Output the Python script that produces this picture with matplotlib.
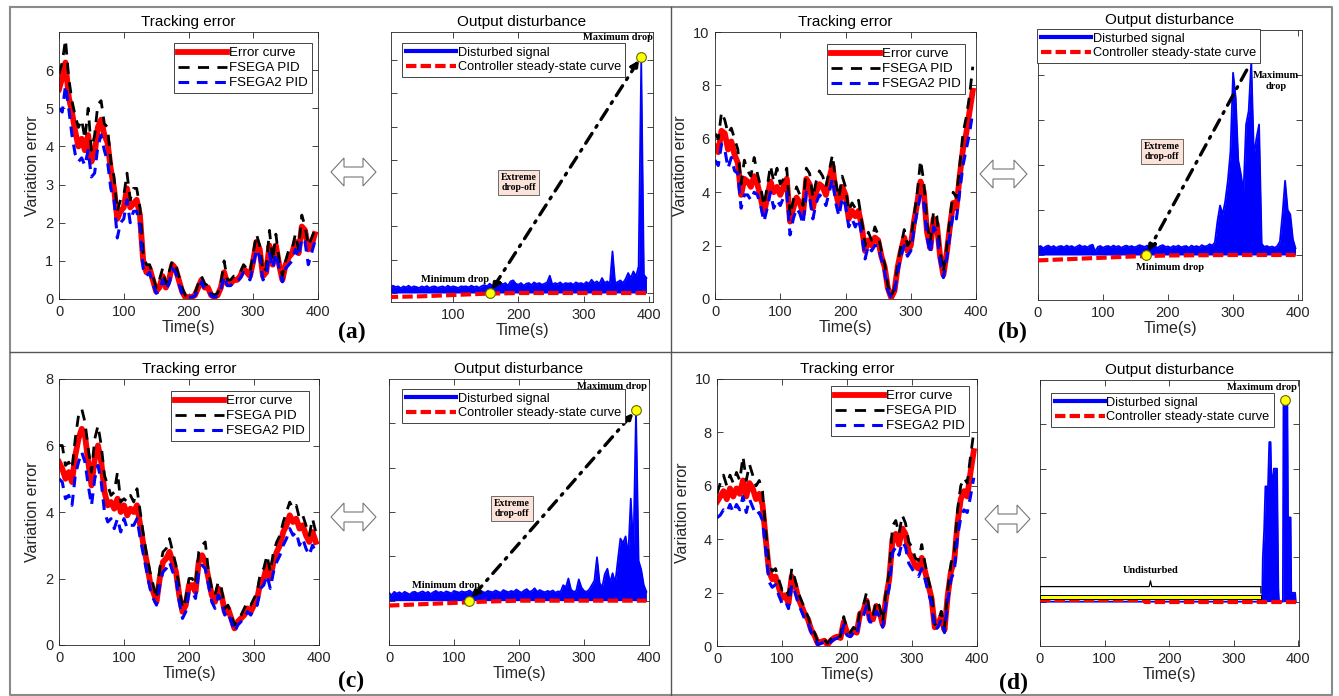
import numpy as np
import matplotlib
matplotlib.use('Agg')
import matplotlib.pyplot as plt
from matplotlib.lines import Line2D
from matplotlib.patches import Polygon, Rectangle

plt.rcParams['font.family'] = ['Liberation Sans', 'DejaVu Sans']

# ---------------- data ----------------
t_track = np.arange(0, 400, 5)

red_a = [5.5, 5.8, 6.2, 5.3, 4.9, 4.4, 4.0, 4.2, 3.9, 4.3,
         3.6, 3.8, 4.5, 4.7, 4.3, 4.1, 3.4, 2.9, 2.1, 2.3,
         2.4, 2.9, 2.4, 2.5, 2.6, 2.2, 1.0, 0.7, 0.8, 0.5,
         0.2, 0.3, 0.6, 0.3, 0.5, 0.9, 0.8, 0.5, 0.2, 0.05,
         0.05, 0.05, 0.1, 0.3, 0.5, 0.3, 0.3, 0.1, 0.05, 0.1,
         0.3, 0.7, 0.4, 0.4, 0.5, 0.5, 0.6, 0.8, 0.7, 0.6,
         1.0, 1.5, 1.3, 0.6, 0.7, 1.4, 0.9, 1.4, 0.9, 0.5,
         0.9, 1.1, 1.2, 1.5, 1.2, 1.9, 1.8, 1.3, 1.4, 1.7]
black_a = [5.9, 6.2, 6.8, 5.8, 5.2, 4.8, 4.5, 4.7, 4.2, 5.0,
           3.9, 4.3, 5.1, 5.2, 4.6, 4.5, 3.6, 3.2, 2.3, 2.6,
           2.7, 3.3, 2.6, 2.9, 2.9, 2.4, 1.2, 0.9, 0.9, 0.6,
           0.3, 0.5, 0.8, 0.4, 0.7, 1.0, 0.9, 0.6, 0.3, 0.1,
           0.1, 0.1, 0.15, 0.4, 0.6, 0.4, 0.35, 0.15, 0.1, 0.15,
           0.4, 1.0, 0.5, 0.5, 0.6, 0.6, 0.7, 0.9, 0.8, 0.7,
           1.2, 1.7, 1.4, 0.7, 0.8, 1.8, 1.0, 1.7, 1.0, 0.6,
           1.0, 1.3, 1.3, 1.7, 1.3, 2.2, 1.9, 1.4, 1.6, 1.8]
blue_a = [5.0, 4.9, 5.6, 5.0, 4.3, 3.8, 3.6, 3.7, 3.5, 3.9,
          3.2, 3.3, 4.0, 4.3, 3.9, 3.6, 2.9, 2.6, 1.6, 2.0,
          2.1, 2.6, 2.0, 2.3, 2.3, 1.9, 0.8, 0.6, 0.7, 0.4,
          0.15, 0.2, 0.5, 0.25, 0.4, 0.8, 0.7, 0.4, 0.15, 0.05,
          0.05, 0.05, 0.08, 0.25, 0.45, 0.25, 0.25, 0.08, 0.05, 0.08,
          0.25, 0.6, 0.35, 0.35, 0.45, 0.45, 0.55, 0.7, 0.6, 0.5,
          0.9, 1.3, 1.1, 0.5, 0.6, 1.2, 0.8, 1.2, 0.8, 0.45,
          0.8, 0.9, 1.0, 1.3, 1.1, 1.6, 1.5, 0.9, 1.2, 1.5]

red_b = [5.7, 5.5, 6.3, 6.2, 5.6, 5.9, 5.4, 5.1, 3.9, 4.5,
         4.4, 4.2, 4.6, 4.3, 3.8, 3.2, 3.8, 4.4, 4.0, 4.2,
         3.9, 4.2, 4.5, 2.9, 3.4, 3.8, 3.6, 3.2, 4.5, 4.3,
         3.4, 4.0, 4.3, 4.2, 3.9, 4.5, 5.0, 4.0, 3.5, 4.2,
         3.9, 3.0, 3.3, 3.1, 3.3, 2.7, 1.8, 2.2, 2.0, 2.3,
         2.2, 1.6, 1.2, 0.4, 0.05, 0.3, 1.2, 1.8, 2.3, 1.8,
         2.0, 2.9, 3.6, 4.4, 4.0, 2.5, 1.9, 3.0, 2.8, 1.6,
         0.9, 1.7, 2.7, 3.6, 3.4, 4.6, 5.6, 6.2, 7.0, 7.8]
black_b = [6.2, 6.0, 7.0, 6.7, 6.2, 6.4, 6.0, 5.6, 4.3, 5.2,
           4.8, 4.6, 5.3, 4.7, 4.2, 3.5, 4.2, 5.0, 4.4, 4.9,
           4.3, 4.5, 4.9, 3.1, 3.7, 4.2, 3.9, 3.5, 4.9, 4.7,
           3.8, 4.4, 4.8, 4.6, 4.2, 4.8, 5.4, 4.4, 3.8, 4.6,
           4.2, 3.3, 3.6, 3.4, 3.7, 2.9, 2.0, 2.5, 2.2, 2.7,
           2.4, 1.8, 1.3, 0.5, 0.1, 0.4, 1.3, 2.0, 2.6, 2.0,
           2.2, 3.1, 4.0, 5.2, 4.4, 2.8, 2.1, 3.3, 3.1, 1.8,
           1.0, 1.9, 3.0, 4.0, 3.8, 5.0, 6.2, 6.8, 7.6, 8.7]
blue_b = [5.2, 5.0, 5.8, 5.6, 4.9, 5.3, 4.8, 4.7, 3.4, 3.9,
          3.9, 3.7, 4.0, 3.9, 3.5, 2.9, 3.4, 4.0, 3.4, 3.7,
          3.5, 3.8, 4.0, 2.4, 3.0, 3.4, 3.2, 2.8, 4.0, 3.8,
          3.0, 3.6, 3.9, 3.8, 3.5, 4.0, 4.5, 3.6, 3.1, 3.8,
          3.5, 2.7, 3.0, 2.7, 3.0, 2.4, 1.5, 2.0, 1.8, 2.0,
          2.0, 1.5, 1.0, 0.3, 0.05, 0.25, 1.0, 1.6, 2.0, 1.6,
          1.8, 2.6, 3.3, 3.9, 3.6, 2.3, 1.7, 2.7, 2.5, 1.4,
          0.8, 1.5, 2.4, 3.2, 3.0, 4.0, 5.0, 5.6, 6.2, 7.0]

red_c = [5.5, 5.3, 5.0, 5.2, 4.9, 5.7, 6.2, 6.5, 6.3, 5.5,
         4.8, 5.6, 6.0, 5.5, 4.6, 4.2, 4.3, 4.1, 4.4, 4.0,
         4.2, 3.9, 4.1, 4.0, 4.2, 3.6, 3.0, 2.5, 1.9, 1.6,
         1.3, 2.0, 2.5, 2.6, 2.8, 2.5, 2.2, 1.5, 1.0, 1.2,
         1.8, 1.8, 1.6, 2.5, 2.7, 2.5, 2.0, 1.5, 1.3, 1.7,
         1.5, 1.0, 1.1, 0.8, 0.5, 0.7, 0.8, 0.9, 1.1, 1.0,
         1.2, 1.4, 1.9, 2.0, 2.4, 2.0, 2.5, 2.8, 3.0, 3.4,
         3.6, 3.9, 3.7, 3.8, 3.5, 3.6, 3.3, 3.1, 3.4, 3.1]
black_c = [6.0, 6.0, 5.4, 5.5, 5.3, 6.2, 6.9, 7.1, 6.7, 5.9,
           5.2, 6.2, 6.6, 6.0, 5.1, 4.8, 4.5, 4.6, 5.2, 4.3,
           4.4, 4.3, 4.5, 4.3, 4.7, 4.0, 3.3, 2.7, 2.2, 1.8,
           1.4, 2.3, 2.8, 2.9, 3.2, 2.8, 2.4, 1.7, 1.1, 1.4,
           2.0, 2.0, 1.8, 2.8, 3.0, 3.1, 2.2, 1.7, 1.5, 1.9,
           1.7, 1.1, 1.2, 0.9, 0.6, 0.8, 0.9, 1.1, 1.3, 1.2,
           1.4, 1.6, 2.2, 2.3, 2.7, 2.2, 2.8, 3.1, 3.3, 3.7,
           4.0, 4.3, 4.1, 4.2, 3.8, 3.9, 3.6, 3.3, 3.8, 3.4]
blue_c = [5.0, 4.9, 4.4, 4.5, 4.2, 5.1, 5.5, 5.8, 5.5, 4.8,
          4.2, 5.0, 5.4, 4.9, 4.0, 3.7, 3.8, 3.5, 3.8, 3.4,
          3.8, 3.5, 3.6, 3.6, 3.8, 3.2, 2.7, 2.2, 1.7, 1.4,
          1.2, 1.8, 2.2, 2.3, 2.5, 2.2, 2.0, 1.3, 0.8, 1.0,
          1.6, 1.6, 1.4, 2.2, 2.4, 2.3, 1.8, 1.3, 1.1, 1.5,
          1.3, 0.9, 1.0, 0.7, 0.4, 0.6, 0.7, 0.8, 1.0, 0.9,
          1.1, 1.2, 1.7, 1.8, 2.1, 1.7, 2.2, 2.5, 2.7, 3.0,
          3.2, 3.5, 3.3, 3.4, 3.0, 3.2, 2.9, 2.7, 3.0, 2.8]

red_d = [5.4, 5.6, 5.8, 5.5, 5.9, 5.6, 5.9, 5.7, 6.2, 5.6,
         6.1, 5.9, 5.5, 5.7, 5.3, 4.0, 2.8, 2.5, 2.6, 2.2,
         1.8, 1.9, 1.6, 2.6, 2.3, 1.8, 1.5, 1.2, 1.0, 0.6,
         0.4, 0.1, 0.15, 0.2, 0.05, 0.2, 0.3, 0.35, 0.3, 0.9,
         0.5, 0.4, 0.6, 0.5, 1.2, 1.3, 1.7, 1.0, 1.0, 1.5,
         1.3, 0.8, 1.8, 2.5, 4.0, 4.2, 3.8, 4.4, 4.2, 3.5,
         3.3, 3.0, 2.9, 3.3, 2.8, 2.3, 1.8, 0.7, 0.8, 1.1,
         0.6, 1.9, 2.8, 3.2, 4.6, 5.5, 5.8, 5.6, 6.5, 7.3]
black_d = [5.7, 6.1, 6.4, 6.0, 6.4, 6.1, 6.5, 6.2, 7.1, 6.2,
           6.8, 6.4, 6.0, 6.2, 5.8, 4.3, 3.1, 2.8, 2.9, 2.5,
           2.1, 2.2, 1.9, 2.9, 2.5, 2.0, 1.7, 1.4, 1.1, 0.7,
           0.5, 0.15, 0.2, 0.25, 0.1, 0.25, 0.4, 0.4, 0.35, 1.1,
           0.6, 0.5, 0.7, 0.6, 1.3, 1.5, 2.0, 1.2, 1.1, 1.7,
           1.5, 0.9, 2.0, 2.8, 4.5, 4.7, 4.2, 4.9, 4.6, 3.9,
           3.7, 3.3, 3.2, 3.8, 3.1, 2.5, 2.0, 0.8, 0.9, 1.3,
           0.7, 2.1, 3.1, 3.5, 5.1, 6.0, 6.3, 6.1, 7.1, 8.0]
blue_d = [4.8, 4.9, 5.1, 5.0, 5.3, 5.0, 5.3, 5.1, 5.6, 5.0,
          5.5, 5.2, 4.9, 5.0, 4.7, 3.6, 2.4, 2.2, 2.3, 1.9,
          1.6, 1.7, 1.4, 2.3, 2.0, 1.6, 1.3, 1.0, 0.9, 0.5,
          0.3, 0.05, 0.1, 0.15, 0.05, 0.15, 0.25, 0.3, 0.25, 0.8,
          0.4, 0.35, 0.5, 0.4, 1.0, 1.1, 1.5, 0.9, 0.9, 1.3,
          1.1, 0.7, 1.6, 2.2, 3.5, 3.7, 3.4, 3.9, 3.7, 3.1,
          2.9, 2.7, 2.6, 2.9, 2.5, 2.0, 1.6, 0.6, 0.7, 1.0,
          0.5, 1.7, 2.5, 2.8, 4.1, 4.8, 5.1, 5.0, 5.6, 6.3]

# output disturbance (upper envelope of the disturbed signal)
t_dist = np.arange(0, 400, 4)
dist_a = [0.2, 0.15, 0.22, 0.18, 0.2, 0.14, 0.2, 0.17, 0.22, 0.16,
          0.2, 0.18, 0.15, 0.2, 0.17, 0.21, 0.15, 0.19, 0.2, 0.16,
          0.18, 0.2, 0.16, 0.22, 0.17, 0.2, 0.18, 0.15, 0.2, 0.19,
          0.2, 0.17, 0.22, 0.18, 0.2, 0.16, 0.21, 0.24, 0.2, 0.28,
          0.22, 0.3, 0.25, 0.32, 0.26, 0.3, 0.22, 0.35, 0.38, 0.28,
          0.25, 0.3, 0.22, 0.28, 0.3, 0.24, 0.32, 0.27, 0.3, 0.25,
          0.28, 0.32, 0.52, 0.25, 0.3, 0.27, 0.32, 0.25, 0.3, 0.28,
          0.3, 0.25, 0.32, 0.28, 0.3, 0.26, 0.33, 0.28, 0.4, 0.3,
          0.35, 0.28, 0.45, 0.3, 0.35, 0.28, 1.25, 0.3, 0.33, 0.38,
          0.3, 0.42, 0.6, 0.45, 0.65, 0.5, 0.8, 6.95, 0.55, 0.45]
dist_b = [0.18, 0.2, 0.15, 0.19, 0.21, 0.17, 0.2, 0.16, 0.19, 0.2,
          0.17, 0.21, 0.18, 0.2, 0.16, 0.19, 0.22, 0.18, 0.2, 0.17,
          0.21, 0.23, 0.08, 0.18, 0.2, 0.16, 0.19, 0.2, 0.17, 0.21,
          0.18, 0.2, 0.16, 0.19, 0.21, 0.18, 0.2, 0.17, 0.19, 0.22,
          0.2, 0.18, 0.21, 0.17, 0.2, 0.19, 0.16, 0.2, 0.22, 0.18,
          0.19, 0.16, 0.2, 0.18, 0.21, 0.17, 0.19, 0.2, 0.16, 0.21,
          0.18, 0.2, 0.17, 0.22, 0.19, 0.2, 0.24, 0.21, 0.28, 0.75,
          1.1, 0.9, 1.2, 1.65, 2.3, 4.05, 3.5, 2.1, 1.8, 1.4,
          2.9, 3.2, 4.3, 2.2, 2.6, 2.9, 0.25, 0.18, 0.2, 0.17,
          0.19, 0.16, 0.2, 0.3, 0.9, 1.65, 1.0, 0.9, 0.35, 0.15]
dist_c = [0.18, 0.12, 0.2, 0.16, 0.19, 0.15, 0.2, 0.17, 0.14, 0.19,
          0.2, 0.16, 0.19, 0.21, 0.17, 0.2, 0.15, 0.19, 0.22, 0.18,
          0.2, 0.17, 0.21, 0.19, 0.16, 0.22, 0.2, 0.18, 0.21, 0.19,
          0.2, 0.23, 0.18, 0.21, 0.19, 0.24, 0.2, 0.18, 0.22, 0.2,
          0.19, 0.23, 0.2, 0.18, 0.24, 0.21, 0.19, 0.22, 0.2, 0.25,
          0.21, 0.18, 0.23, 0.26, 0.2, 0.22, 0.28, 0.2, 0.24, 0.21,
          0.19, 0.22, 0.2, 0.23, 0.18, 0.21, 0.2, 0.35, 0.3, 0.5,
          0.25, 0.2, 0.22, 0.48, 0.3, 0.22, 0.2, 0.25, 0.35, 0.45,
          0.98, 0.4, 0.3, 0.6, 0.72, 0.4, 0.62, 0.4, 0.9, 1.4,
          1.3, 1.45, 1.0, 2.3, 1.1, 4.25, 0.9, 0.7, 0.35, 0.2]
t_dist_d = [0, 344, 345, 347, 349, 353, 355, 357, 358, 361, 362,
            367, 369, 370, 376, 377, 383, 384, 388, 389, 395, 396]
dist_d = [0, 0, 1.0, 1.6, 2.6, 2.6, 3.6, 3.6, 2.85, 2.85, 3.0,
          3.0, 0.3, 0, 0, 4.5, 4.5, 1.9, 1.9, 0.2, 0.2, 0]

# controller steady-state curves
t_ss = [0, 50, 100, 150, 200, 300, 396]
ss_a = [-0.12, -0.1, -0.06, -0.02, 0.0, 0.0, 0.0]
ss_b = [-0.12, -0.09, -0.06, -0.03, -0.01, 0.0, 0.0]
ss_c = [-0.11, -0.08, -0.05, -0.02, 0.0, 0.0, 0.0]
t_ss_d = [0, 162, 162, 396]
ss_d = [0.03, 0.03, 0.0, 0.0]

# annotation points (min / max drop)
min_a, max_a = (156, 0.0), (388, 7.1)
min_b, top_b = (166, 0.0), (324, 4.19)
min_c, max_c = (123, 0.0), (380, 4.3)
max_d = (379, 4.55)
undist_span = (0, 342)

# ---------------- figure ----------------
W, H = 1339, 696
fig = plt.figure(figsize=(W / 100, H / 100), dpi=100)
fig.patch.set_facecolor('white')


def add_ax(x0, y0, x1, y1):
    return fig.add_axes([x0 / W, 1 - y1 / H, (x1 - x0) / W, (y1 - y0) / H])


AXC = '#262626'
SERIF = dict(family='Liberation Serif', weight='bold')


def style(ax):
    for s in ax.spines.values():
        s.set_color(AXC)
        s.set_linewidth(0.6)
    ax.tick_params(direction='in', top=True, right=True, length=4, width=0.6,
                   labelsize=10.5, colors=AXC, pad=4)


def tracking(ax, red, black, blue, ylim, yticks, leg_anchor):
    style(ax)
    ax.plot(t_track, red, color='#ff0000', lw=4.2, label='Error curve',
            solid_joinstyle='round')
    ax.plot(t_track, black, color='black', lw=2.0, ls=(0, (4, 3)), label='FSEGA PID')
    ax.plot(t_track, blue, color='#0000ff', lw=2.2, ls=(0, (3.5, 2.5)), label='FSEGA2 PID')
    ax.set_xlim(0, 400)
    ax.set_ylim(*ylim)
    ax.set_xticks([0, 100, 200, 300, 400])
    ax.set_yticks(yticks)
    ax.set_title('Tracking error', fontsize=11, pad=4, color='black')
    ax.set_xlabel('Time(s)', fontsize=11.5, labelpad=1, color=AXC)
    ax.set_ylabel('Variation error', fontsize=11.5, labelpad=4, color=AXC)
    leg = ax.legend(loc='upper right', bbox_to_anchor=leg_anchor, fontsize=9.6,
                    fancybox=False, edgecolor=AXC, framealpha=1, borderpad=0.3,
                    labelspacing=0.2, handlelength=3.7, handletextpad=0.15,
                    borderaxespad=0)
    leg.get_frame().set_linewidth(0.6)


def disturbance(ax, t, hi, tss, ss, xlim, ylim, yticks, xticks, leg_anchor):
    style(ax)
    ax.fill_between(t, 0, hi, color='#0000ff', lw=0, zorder=2)
    ax.plot(t, hi, color='#0000ff', lw=1.3, zorder=2)
    ax.plot(tss, ss, color='#ff0000', lw=3, ls=(0, (2.5, 1)), zorder=3)
    ax.set_xlim(*xlim)
    ax.set_ylim(*ylim)
    ax.set_xticks(xticks)
    ax.set_yticks(yticks)
    ax.set_yticklabels([])
    ax.set_title('Output disturbance', fontsize=11, pad=4, color='black')
    ax.set_xlabel('Time(s)', fontsize=11.5, labelpad=1, color=AXC)
    handles = [Line2D([], [], color='#0000ff', lw=3),
               Line2D([], [], color='#ff0000', lw=3, ls=(0, (2.5, 1)))]
    leg = ax.legend(handles, ['Disturbed signal', 'Controller steady-state curve'],
                    loc='upper left', bbox_to_anchor=leg_anchor, fontsize=9.2,
                    fancybox=False, edgecolor=AXC, framealpha=1, borderpad=0.3,
                    labelspacing=0.2, handlelength=3.9, handletextpad=0.15,
                    borderaxespad=0)
    leg.get_frame().set_linewidth(0.6)
    leg.set_zorder(10)


def marker(ax, p):
    ax.plot(*p, 'o', ms=7, mfc='#ffff00', mec='#666600', mew=0.8, zorder=12)


DASHDOT = (0, (3.5, 2.2, 0.6, 2.2))


def drop_arrow(ax, p0, p1, style_='<|-|>'):
    ax.annotate('', xy=p1, xytext=p0,
                arrowprops=dict(arrowstyle=style_, color='black', lw=2.4,
                                linestyle=DASHDOT, mutation_scale=11,
                                shrinkA=3, shrinkB=3), zorder=5)


def extreme_box(ax, x, y):
    ax.text(x, y, 'Extreme\ndrop-off', ha='center', va='center', fontsize=7,
            linespacing=1.15, zorder=7,
            bbox=dict(boxstyle='square,pad=0.3', fc='#fbe3d9', ec='#555555', lw=0.6),
            **SERIF)


# (a)
ax = add_ax(59, 32, 318, 299)
tracking(ax, red_a, black_a, blue_a, (0, 7.0), [0, 1, 2, 3, 4, 5, 6], (0.977, 0.959))
ax = add_ax(391, 32, 653, 302)
disturbance(ax, t_dist, dist_a, t_ss, ss_a, (5, 406), (-0.27, 7.84),
            [0, 1, 2, 3, 4, 5, 6, 7], [100, 200, 300, 400], (0.042, 0.959))
drop_arrow(ax, min_a, max_a)
marker(ax, min_a)
marker(ax, max_a)
extreme_box(ax, 200, 3.33)
ax.text(103, 0.42, 'Minimum drop', ha='center', va='center', fontsize=7.5, **SERIF)
ax.text(352, 7.66, 'Maximum drop', ha='center', va='center', fontsize=7.5, **SERIF)

# (b)
ax = add_ax(715, 32, 976, 299)
tracking(ax, red_b, black_b, blue_b, (0, 10), [0, 2, 4, 6, 8, 10], (0.958, 0.955))
ax = add_ax(1038, 30, 1302, 300)
disturbance(ax, t_dist, dist_b, t_ss, ss_b, (0, 406), (-1, 5),
            [0, 1, 2, 3, 4], [0, 100, 200, 300, 400], (-0.004, 1.004))
drop_arrow(ax, top_b, min_b, style_='-|>')
marker(ax, min_b)
extreme_box(ax, 191, 2.3)
ax.text(203, -0.27, 'Minimum drop', ha='center', va='center', fontsize=7.5, **SERIF)
ax.text(366, 3.87, 'Maximum\ndrop', ha='center', va='center', fontsize=7.5,
        linespacing=1.3, **SERIF)

# (c)
ax = add_ax(59, 379, 319, 645)
tracking(ax, red_c, black_c, blue_c, (0, 8), [0, 2, 4, 6, 8], (0.96, 0.955))
ax = add_ax(389, 379, 649, 645)
disturbance(ax, t_dist, dist_c, t_ss, ss_c, (0, 400), (-1, 5),
            [0, 1, 2, 3, 4], [0, 100, 200, 300, 400], (0.05, 0.962))
drop_arrow(ax, min_c, max_c)
marker(ax, min_c)
marker(ax, max_c)
extreme_box(ax, 189, 2.07)
ax.text(87, 0.35, 'Minimum drop', ha='center', va='center', fontsize=7.5, **SERIF)
ax.text(343, 4.84, 'Maximum drop', ha='center', va='center', fontsize=7.5, **SERIF)

# (d)
ax = add_ax(717, 379, 977, 646)
tracking(ax, red_d, black_d, blue_d, (0, 10), [0, 2, 4, 6, 8, 10], (0.97, 0.974))
ax = add_ax(1040, 380, 1299, 646)
disturbance(ax, t_dist_d, dist_d, t_ss_d, ss_d, (0, 401), (-1, 5),
            [0, 1, 2, 3, 4], [0, 100, 200, 300, 400], (0.042, 0.951))
marker(ax, max_d)
ax.add_patch(Rectangle((undist_span[0], 0.05), undist_span[1] - undist_span[0], 0.09,
                       fc='#ffff00', ec='black', lw=0.7, zorder=4))
mid = 0.5 * (undist_span[0] + undist_span[1])
ax.plot([undist_span[0], undist_span[0], mid - 2, mid, mid + 2, undist_span[1], undist_span[1]],
        [0.2, 0.34, 0.34, 0.47, 0.34, 0.34, 0.2], color='black', lw=0.9, zorder=4)
ax.text(mid, 0.7, 'Undisturbed', ha='center', va='center', fontsize=7.5, **SERIF)
ax.text(343, 4.84, 'Maximum drop', ha='center', va='center', fontsize=7.5, **SERIF)

# ---------------- decorations ----------------
def fig_line(xs, ys, color='#8a8a8a', lw=1.5):
    fig.add_artist(Line2D([x / W for x in xs], [1 - y / H for y in ys],
                          transform=fig.transFigure, color=color, lw=lw))


fig_line([10, 1332, 1332, 10, 10], [7, 7, 695, 695, 7])
fig_line([671, 671], [7, 695], color='#555555', lw=1.0)
fig_line([10, 1332], [352, 352], color='#555555', lw=1.0)


def double_arrow(x0, x1, yc, hl=13, hh=14, sh=5):
    pts = [(x0, yc), (x0 + hl, yc - hh), (x0 + hl, yc - sh), (x1 - hl, yc - sh),
           (x1 - hl, yc - hh), (x1, yc), (x1 - hl, yc + hh), (x1 - hl, yc + sh),
           (x0 + hl, yc + sh), (x0 + hl, yc + hh)]
    fig.add_artist(Polygon([(x / W, 1 - y / H) for x, y in pts], closed=True,
                           transform=fig.transFigure, fc='white', ec='#777777', lw=0.8))


double_arrow(331, 376, 172)
double_arrow(980, 1027, 174)
double_arrow(331, 376, 517)
double_arrow(985, 1030, 519)

for lab, x, y in [('(a)', 352, 332), ('(b)', 1012, 332), ('(c)', 351, 681), ('(d)', 1013, 683)]:
    fig.text(x / W, 1 - y / H, lab, ha='center', va='center', fontsize=17, **SERIF)

fig.savefig('out.png', dpi=100, facecolor='white')
